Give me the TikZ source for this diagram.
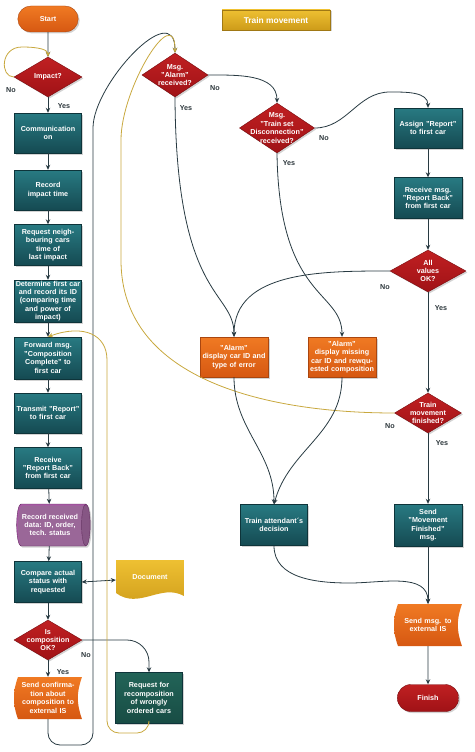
\documentclass[tikz,border=0pt]{standalone}
\usepackage{fontspec}
\setmainfont{Liberation Sans}
\usetikzlibrary{shapes.geometric,shapes.misc,shadows,arrows.meta}

\definecolor{tealA}{RGB}{40,122,130}
\definecolor{tealB}{RGB}{21,74,82}
\definecolor{tealD}{RGB}{14,52,58}
\definecolor{greenA}{RGB}{34,100,88}
\definecolor{greenB}{RGB}{24,76,68}
\definecolor{redA}{RGB}{192,32,34}
\definecolor{redB}{RGB}{160,18,22}
\definecolor{redD}{RGB}{120,12,15}
\definecolor{orngA}{RGB}{240,122,35}
\definecolor{orngB}{RGB}{214,88,18}
\definecolor{orngD}{RGB}{170,70,15}
\definecolor{purpA}{RGB}{168,90,165}
\definecolor{purpB}{RGB}{138,64,135}
\definecolor{purpD}{RGB}{95,40,92}
\definecolor{goldA}{RGB}{238,192,50}
\definecolor{goldB}{RGB}{205,155,25}
\definecolor{goldD}{RGB}{160,120,20}
\definecolor{linedark}{RGB}{40,58,66}
\definecolor{lineyel}{RGB}{200,168,62}
\definecolor{lbltext}{RGB}{45,55,60}

\tikzset{
  txt/.style={font=\bfseries\fontsize{7.2}{8.4}\selectfont, align=center},
  shad/.style={drop shadow={shadow xshift=1.5pt, shadow yshift=-1.5pt, opacity=0.35}},
  procbox/.style={txt, shad, text=white, rectangle, minimum width=67pt, minimum height=40pt,
    text width=65pt, inner xsep=1pt, inner ysep=0pt, top color=tealA, bottom color=tealB, draw=tealD},
  recobox/.style={procbox, top color=greenA, bottom color=greenB},
  alarmbox/.style={procbox, minimum width=68pt, text width=66pt, top color=orngA, bottom color=orngB, draw=orngD},
  terminal/.style={txt, shad, text=white, rounded rectangle, minimum width=67pt, minimum height=26pt,
    top color=orngA, bottom color=orngB, draw=orngD},
  endterm/.style={terminal, top color=redA, bottom color=redB, draw=redD},
  decision/.style={shad, diamond, inner sep=0pt, minimum width=68pt, minimum height=40pt,
    top color=redA, bottom color=redB, draw=redD},
  dtext/.style={txt, text=white, inner sep=0pt},
  cyl/.style={txt, shad, text=white, cylinder, shape border rotate=0, aspect=0.3,
    minimum width=42pt, minimum height=70pt, cylinder uses custom fill,
    cylinder body fill=purpA, cylinder end fill=purpB, draw=purpD},
  storedata/.style={txt, text=white, rectangle, minimum width=68pt, minimum height=42pt,
    text width=64pt, inner xsep=2pt, inner ysep=0pt,
    path picture={
      \shade[top color=orngA, bottom color=orngB]
        ([xshift=4pt]path picture bounding box.north west)
        to[bend right=20] ([xshift=4pt]path picture bounding box.south west)
        -- (path picture bounding box.south east)
        to[bend left=20] (path picture bounding box.north east) -- cycle;
    }},
  docshape/.style={txt, text=white, rectangle, minimum width=68pt, minimum height=40pt,
    text width=64pt, inner sep=0pt,
    path picture={
      \shade[top color=goldA, bottom color=goldB]
        (path picture bounding box.north west) -- (path picture bounding box.north east)
        -- ([yshift=4pt]path picture bounding box.south east)
        .. controls ([shift={(-23pt,17pt)}]path picture bounding box.south east)
        and ([shift={(23pt,-10pt)}]path picture bounding box.south west)
        .. ([yshift=7pt]path picture bounding box.south west) -- cycle;
    }},
  titlebox/.style={shad, font=\bfseries\fontsize{8.4}{10}\selectfont, text=white, rectangle,
    minimum width=108pt, minimum height=20pt, top color=goldA, bottom color=goldB, draw=goldD},
  conn/.style={draw=linedark, line width=0.8pt, ->},
  yconn/.style={draw=lineyel, line width=0.8pt, ->},
  yesno/.style={font=\bfseries\fontsize{7.2}{8.4}\selectfont, text=lbltext, inner sep=0pt}
}

\begin{document}
\begin{tikzpicture}[x=1pt, y=-1pt, >={Stealth[length=5pt,width=4.5pt]}]
  \useasboundingbox (0,0) rectangle (474,752);

  % === left column ===
  \node[terminal] (start) at (48,19) {Start};
  \node[decision, label={[dtext]center:Impact?}] (impact) at (48,77) {};
  \node[procbox] (comm) at (48,133) {Communication\\on};
  \node[procbox] (rectime) at (48,190) {Record\\impact time};
  \node[procbox, minimum height=41pt] (reqnb) at (48,245) {Request neigh-\\bouring cars\\time of\\last impact};
  \node[procbox, minimum height=42pt] (determ) at (48,301) {Determine first car\\and record its ID\\(comparing time\\and power of\\impact)};
  \node[procbox, minimum height=42pt] (fwd) at (48,358) {Forward msg.\\"Composition\\Complete" to\\first car};
  \node[procbox] (transmit) at (48,413) {Transmit "Report"\\to first car};
  \node[procbox, minimum height=41pt] (receive) at (48,468) {Receive\\"Report Back"\\from first car};
  \node[cyl] (recdata) at (50,525) {Record received\\data: ID, order,\\tech. status};
  \node[procbox, minimum height=41pt] (compare) at (48,582) {Compare actual\\status with\\requested};
  \node[decision, label={[dtext]center:Is\\composition\\OK?}] (iscomp) at (48,640) {};
  \node[storedata] (sendconf) at (48,698) {Send confirma-\\tion about\\composition to\\external IS};
  \node[recobox, minimum height=51pt] (reco) at (149,698) {Request for\\recomposition\\of wrongly\\ordered cars};
  \node[docshape] (doc) at (150,580) {\raisebox{6pt}{Document}};

  % === right part ===
  \node[titlebox] (title) at (276,20) {Train movement};
  \node[decision, minimum width=66pt, minimum height=44pt,
    label={[dtext]center:Msg.\\"Alarm"\\received?}] (alarm) at (175,75) {};
  \node[decision, minimum width=75pt, minimum height=50pt,
    label={[dtext]center:Msg.\\"Train set\\Disconnection"\\received?}] (dis) at (277,128) {};
  \node[procbox, minimum width=68pt] (assign) at (428,128) {Assign "Report"\\to first car};
  \node[procbox, minimum width=68pt, minimum height=41pt] (recmsg) at (428,198) {Receive msg.\\"Report Back"\\from first car};
  \node[decision, minimum width=76pt, minimum height=42pt,
    label={[dtext]center:All\\values\\OK?}] (allok) at (428,271) {};
  \node[alarmbox] (carid) at (234,357) {"Alarm"\\display car ID and\\type of error\\[6pt]};
  \node[alarmbox] (missing) at (342,357) {"Alarm"\\display missing\\car ID and rewqu-\\ested composition};
  \node[decision, minimum width=67pt,
    label={[dtext]center:Train\\movement\\finished?}] (tmfin) at (428,413) {};
  \node[procbox, minimum width=68pt, minimum height=42pt] (sendmf) at (428,525) {Send\\"Movement\\Finished"\\msg.};
  \node[procbox, minimum height=41pt] (attendant) at (274,525) {Train attendant´s\\decision\\[6pt]};
  \node[storedata] (extis) at (428,625) {Send msg. to\\external IS};
  \node[endterm, minimum width=68pt, minimum height=27pt] (finish) at (428,698) {Finish};

  % === yes / no ===
  \node[yesno] (impno) at (11,90) {No};
  \node[yesno] (impyes) at (64,106) {Yes};
  \node[yesno] (compno) at (86,655) {No};
  \node[yesno] (compyes) at (63,672) {Yes};
  \node[yesno] (alno) at (215,88) {No};
  \node[yesno] (alyes) at (186,108) {Yes};
  \node[yesno] (disno) at (324,138) {No};
  \node[yesno] (disyes) at (289,163) {Yes};
  \node[yesno] (okno) at (385,287) {No};
  \node[yesno] (okyes) at (441,308) {Yes};
  \node[yesno] (finno) at (390,426) {No};
  \node[yesno] (finyes) at (442,443) {Yes};

  % === connectors, left column ===
  \draw[conn] (start) -- (impact);
  \draw[yconn] (impact.west) .. controls (0,77) and (0,47) .. (22,47) .. controls (40,47) and (48,50) .. (impact.north);
  \draw[conn] (impact) -- (comm);
  \foreach \a/\b in {comm/rectime, rectime/reqnb, reqnb/determ, determ/fwd, fwd/transmit,
      transmit/receive, receive/recdata, recdata/compare, compare/iscomp, iscomp/sendconf}
    \draw[conn] (\a) -- (\b);
  \draw[conn, rounded corners=22pt] (iscomp.east) -| (reco.north);
  \draw[conn, <->] (compare.east) -- (doc.west);

  % back loops
  \draw[conn, rounded corners=12pt] (sendconf.south) |- (93,745) -- (93,140)
    to[out=90, in=90, looseness=1.2] (alarm.north);
  \draw[yconn, rounded corners=12pt] (reco.south) |- (107,733) -- (107,372)
    to[out=90, in=20, looseness=1.4] (fwd.north);
  \draw[yconn] (tmfin.west) to[out=180, in=-90] (121,260) -- (121,140)
    to[out=90, in=90, looseness=1.3] (alarm.north);

  % === connectors, right part ===
  \draw[conn] (alarm.east) to[out=0, in=90] (dis.north);
  \draw[conn] (alarm.south) .. controls (176,300) and (234,290) .. (carid.north);
  \draw[conn] (dis.south) .. controls (279,300) and (342,290) .. (missing.north);
  \draw[conn] (dis.east) to[out=0, in=180] (390,92) to[out=0, in=90] (assign.north);
  \draw[conn] (assign) -- (recmsg);
  \draw[conn] (recmsg) -- (allok);
  \draw[conn] (allok) -- (tmfin);
  \draw[conn] (allok.west) to[out=180, in=90] (carid.north);
  \draw[conn] (carid.south) to[out=-90, in=90] (attendant.north);
  \draw[conn] (missing.south) to[out=-90, in=75] (attendant.north);
  \draw[conn] (tmfin) -- (sendmf);
  \draw[conn] (sendmf) -- (extis);
  \draw[conn] (attendant.south) to[out=-90, in=180] (350,583) to[out=0, in=90] (extis.north);
  \draw[conn] (extis) -- (finish);
\end{tikzpicture}
\end{document}
